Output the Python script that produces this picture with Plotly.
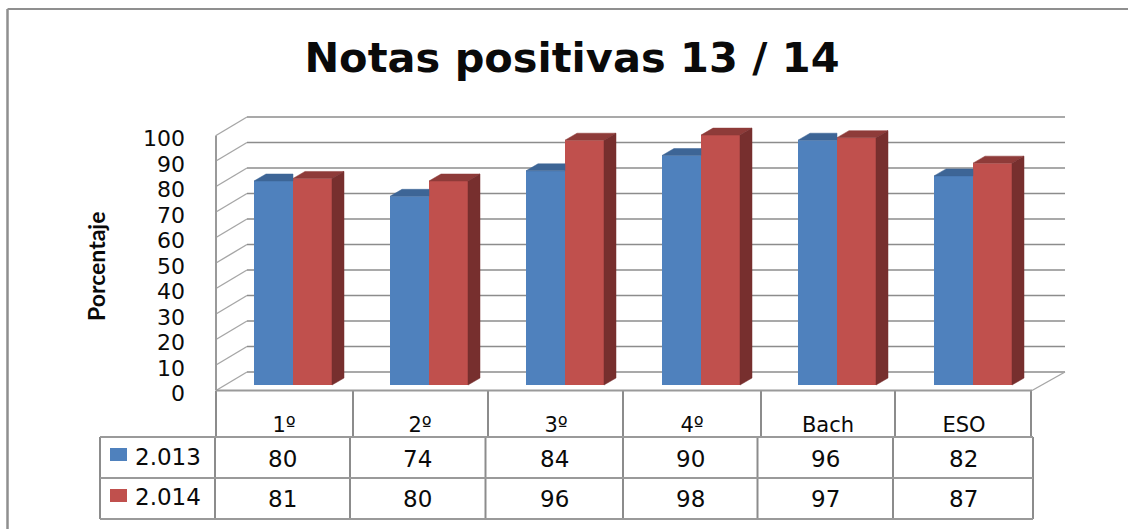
import plotly.graph_objects as go

# ---- data ----
categories = ["1º", "2º", "3º", "4º", "Bach", "ESO"]
series_names = ["2.013", "2.014"]
values_2013 = [80, 74, 84, 90, 96, 82]
values_2014 = [81, 80, 96, 98, 97, 87]
y_ticks = [0, 10, 20, 30, 40, 50, 60, 70, 80, 90, 100]

# ---- style / geometry ----
W, H = 1128, 529
BLUE, RED = "#4F81BD", "#C0504D"
BLUE_TOP, RED_TOP, RED_SIDE = "#3D6596", "#8E3B39", "#772F2E"
LINE = "#8C8C8C"
TXT = "#0A0A0A"
FONT = "DejaVu Sans"

PX_PER_CAT = 136.0       # horizontal pixels per category
PX_PER_UNIT = 2.55       # vertical pixels per percentage point
X0_PX, Y0_PX = 293.0, 385.0   # pixel of category 0 / value 0 on the bar plane
LABEL_Y0_PX = 393.5      # pixel of the printed "0" tick


def dx(px):
    return px / PX_PER_CAT


def dy(px):
    return px / PX_PER_UNIT


x_range = [(0 - X0_PX) / PX_PER_CAT, (W - X0_PX) / PX_PER_CAT]
y_range = [(Y0_PX - H) / PX_PER_UNIT, Y0_PX / PX_PER_UNIT]
label_range = [(LABEL_Y0_PX - H) / PX_PER_UNIT, LABEL_Y0_PX / PX_PER_UNIT]


def px_x(px):
    return px / W


def px_y(px):
    return 1 - px / H


BAR_W = 39 / PX_PER_CAT
DEPTH_X, DEPTH_Y = dx(12), dy(7)

fig = go.Figure()

# front faces through the bar scale
fig.add_bar(x=list(range(6)), y=values_2013, name=series_names[0], marker=dict(color=BLUE, line=dict(width=0)))
fig.add_bar(x=list(range(6)), y=values_2014, name=series_names[1], marker=dict(color=RED, line=dict(width=0)))


def poly(xs, ys, color):
    fig.add_scatter(x=xs + xs[:1], y=ys + ys[:1], mode="lines", fill="toself", fillcolor=color,
                    line=dict(color=color, width=0.5), hoverinfo="skip", showlegend=False)


for i in range(6):
    v1, v2 = values_2013[i], values_2014[i]
    # blue top, clipped at the edge of the neighbouring red face
    poly([i - BAR_W, i, i, i - BAR_W + DEPTH_X], [v1, v1, v1 + DEPTH_Y, v1 + DEPTH_Y], BLUE_TOP)
    # red top and side
    poly([i, i + BAR_W, i + BAR_W + DEPTH_X, i + DEPTH_X], [v2, v2, v2 + DEPTH_Y, v2 + DEPTH_Y], RED_TOP)
    poly([i + BAR_W, i + BAR_W + DEPTH_X, i + BAR_W + DEPTH_X, i + BAR_W],
         [v2, v2 + DEPTH_Y, DEPTH_Y, 0], RED_SIDE)

# invisible trace carrying the printed value axis
fig.add_scatter(x=[0], y=[0], yaxis="y2", mode="markers", marker=dict(opacity=0), hoverinfo="skip", showlegend=False)

shapes = []


def data_line(x0, y0, x1, y1, color=LINE, width=1.6):
    shapes.append(dict(type="line", xref="x", yref="y", x0=x0, y0=y0, x1=x1, y1=y1, layer="below",
                       line=dict(color=color, width=width)))


def page_line(x0, y0, x1, y1, color=LINE, width=2):
    shapes.append(dict(type="line", xref="paper", yref="paper", x0=px_x(x0), y0=px_y(y0), x1=px_x(x1), y1=px_y(y1),
                       layer="below", line=dict(color=color, width=width)))


# walls and gridlines
LEFT_FRONT = (216 - X0_PX) / PX_PER_CAT
RIGHT_FRONT = (1032 - X0_PX) / PX_PER_CAT
LEFT_BACK = (247 - X0_PX) / PX_PER_CAT
RIGHT_BACK = (1065 - X0_PX) / PX_PER_CAT
FRONT_OFF = dy(Y0_PX - 390.5)
BACK_OFF = dy(Y0_PX - 372)

for t in y_ticks:
    data_line(LEFT_FRONT, t + FRONT_OFF, LEFT_BACK, t + BACK_OFF, color="#A6A6A6", width=1.4)
    data_line(LEFT_BACK, t + BACK_OFF, RIGHT_BACK, t + BACK_OFF, color="#8C8C8C", width=1.6)
data_line(LEFT_FRONT, FRONT_OFF, LEFT_FRONT, 100 + FRONT_OFF, color="#9A9A9A", width=2)
data_line(LEFT_FRONT, FRONT_OFF, RIGHT_FRONT, FRONT_OFF, color="#9A9A9A", width=2)
data_line(RIGHT_FRONT, FRONT_OFF, RIGHT_BACK, BACK_OFF, color="#A6A6A6", width=1.4)

# outer frame (open on the right and at the bottom of the picture)
page_line(7.5, 9, W, 9, color="#8F8F8F", width=2)
page_line(7.5, 9, 7.5, H, color="#8F8F8F", width=2.5)

# data table
upper_cols = [216, 353, 488, 623, 761, 895, 1031]
lower_cols = [215, 350, 485.5, 623, 757.5, 893, 1033]
rows = [437, 478, 519]
for x in upper_cols:
    page_line(x, 391, x, 437)
for x in [100] + lower_cols:
    page_line(x, 437, x, 519)
for y in rows:
    page_line(100, y, 1033, y, color="#9A9A9A")

# legend keys
for (y0, y1), c in zip([(448, 461), (489, 502)], [BLUE, RED]):
    shapes.append(dict(type="rect", xref="paper", yref="paper", x0=px_x(110), x1=px_x(127),
                       y0=px_y(y1), y1=px_y(y0), fillcolor=c, line=dict(width=0), layer="above"))

annotations = []


def label(x, y, text, size=23, color=TXT, **kw):
    annotations.append(dict(xref="paper", yref="paper", x=px_x(x), y=px_y(y), text=text, showarrow=False,
                            font=dict(family=FONT, size=size, color=color), xanchor="center", yanchor="middle", **kw))


centers = [(lower_cols[i] + lower_cols[i + 1]) / 2 for i in range(6)]
for cx, a, b in zip(centers, values_2013, values_2014):
    label(cx, 459, str(a))
    label(cx, 499, str(b))
for yy, name in zip([457, 497], series_names):
    annotations.append(dict(xref="paper", yref="paper", x=px_x(133), y=px_y(yy), text=name, showarrow=False,
                            font=dict(family=FONT, size=23, color=TXT), xanchor="left", yanchor="middle"))

label(96, 267, "<b>Porcentaje</b>", size=23, textangle=-90)
annotations[-1]["font"]["family"] = "Lato"

fig.update_layout(
    width=W, height=H,
    margin=dict(l=0, r=0, t=0, b=0),
    autosize=False,
    paper_bgcolor="white", plot_bgcolor="rgba(0,0,0,0)",
    showlegend=False,
    barmode="group", bargap=1 - 78 / PX_PER_CAT, bargroupgap=0,
    title=dict(text="<b>Notas positivas 13 / 14</b>", x=572 / W, y=1 - 57 / H, xanchor="center", yanchor="middle",
               xref="paper", yref="paper", font=dict(family=FONT, size=41.5, color=TXT)),
    xaxis=dict(range=x_range, showgrid=False, zeroline=False, showline=False, anchor="free",
               position=px_y(410), tickmode="array", tickvals=[i - dx(9) for i in range(6)], ticktext=categories,
               ticks="", tickfont=dict(family=FONT, size=21, color=TXT), automargin=False),
    yaxis=dict(range=y_range, showgrid=False, zeroline=False, showline=False, showticklabels=False, ticks=""),
    yaxis2=dict(range=label_range, overlaying="y", anchor="free", position=px_x(185), side="left",
                tickmode="array", tickvals=y_ticks, ticks="", showgrid=False, zeroline=False, showline=False,
                tickfont=dict(family=FONT, size=22, color=TXT), automargin=False),
    shapes=shapes,
    annotations=annotations,
)

fig.write_html("out.html", config={"displayModeBar": False},
               post_script="document.body.style.margin='0';document.body.style.overflow='hidden';")
